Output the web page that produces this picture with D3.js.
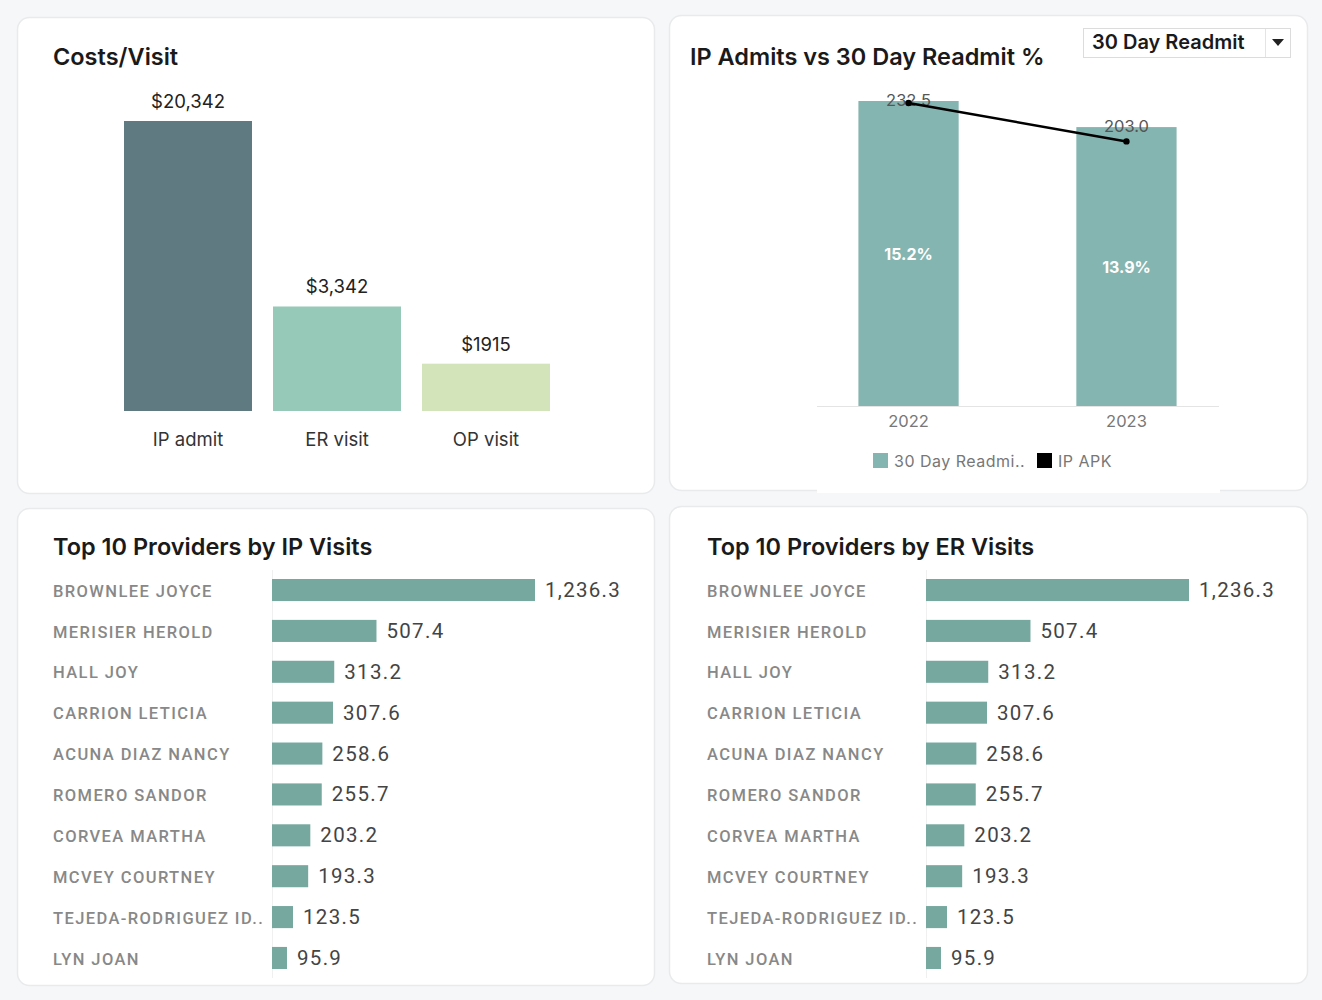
<!DOCTYPE html>
<html>
<head>
<meta charset="utf-8">
<script src="https://cdn.jsdelivr.net/npm/d3@7"></script>
<style>
  body { margin: 0; background: #f6f7f9; }
  svg { display: block; font-family: Inter, "Noto Sans", sans-serif; }
</style>
</head>
<body>
<div id="container"></div>
<script>
// Data
var costCategories = ["IP admit", "ER visit", "OP visit"];
var costValues = [20342, 3342, 1915];
var costLabels = ["$20,342", "$3,342", "$1915"];

var years = ["2022", "2023"];
var readmitPct = [15.2, 13.9];        // 30 Day Readmit %
var ipApk = [232.5, 203.0];           // IP APK

var providers = ["BROWNLEE JOYCE", "MERISIER HEROLD", "HALL JOY", "CARRION LETICIA",
  "ACUNA DIAZ NANCY", "ROMERO SANDOR", "CORVEA MARTHA", "MCVEY COURTNEY",
  "TEJEDA-RODRIGUEZ ID..", "LYN JOAN"];
var ipVisits = [1236.3, 507.4, 313.2, 307.6, 258.6, 255.7, 203.2, 193.3, 123.5, 95.9];
var erVisits = [1236.3, 507.4, 313.2, 307.6, 258.6, 255.7, 203.2, 193.3, 123.5, 95.9];

// Styles
var costColors = ["#5f7a80", "#97c9b8", "#d3e4bb"];
var readmitColor = "#85b5b0";
var provColor = "#76a8a0";
var w = 1322, h = 1000;

var svg = d3.select("#container").append("svg")
  .attr("width", w)
  .attr("height", h);

svg.append("rect").attr("width", w).attr("height", h).attr("fill", "#f6f7f9");

// Cards
var cards = [
  {x: 17, y: 17, w: 637, h: 476},
  {x: 669, y: 15, w: 638, h: 475},
  {x: 17, y: 508, w: 637, h: 477},
  {x: 669, y: 506, w: 638, h: 477}
];
svg.selectAll("rect.card")
  .data(cards)
  .enter()
  .append("rect")
  .attr("class", "card")
  .attr("x", function(d) { return d.x + 0.5; })
  .attr("y", function(d) { return d.y + 0.5; })
  .attr("width", function(d) { return d.w; })
  .attr("height", function(d) { return d.h; })
  .attr("rx", 12)
  .attr("fill", "#ffffff")
  .attr("stroke", "#e9eaec")
  .attr("stroke-width", 1.5);

// the chart area hides part of the card border on the top right card
svg.append("rect")
  .attr("x", 817).attr("y", 486)
  .attr("width", 403).attr("height", 7)
  .attr("fill", "#ffffff");

function title(x, y, txt) {
  svg.append("text")
    .attr("x", x).attr("y", y)
    .attr("font-size", 23.5)
    .attr("font-weight", 600)
    .attr("fill", "#1a1a1a")
    .text(txt);
}

// ---------- Costs/Visit ----------
title(53, 65, "Costs/Visit");

var xCost = d3.scaleBand()
  .domain(costCategories)
  .range([124, 550])
  .paddingInner(0.141)
  .paddingOuter(0);

var yCost = d3.scaleLog()
  .domain([1208, 20342])
  .range([411, 121]);

svg.selectAll("rect.cost")
  .data(costValues)
  .enter()
  .append("rect")
  .attr("x", function(d, i) { return xCost(costCategories[i]); })
  .attr("y", function(d) { return yCost(d); })
  .attr("width", xCost.bandwidth())
  .attr("height", function(d) { return 411 - yCost(d); })
  .attr("fill", function(d, i) { return costColors[i]; });

svg.selectAll("text.costlbl")
  .data(costValues)
  .enter()
  .append("text")
  .attr("x", function(d, i) { return xCost(costCategories[i]) + xCost.bandwidth() / 2; })
  .attr("y", function(d) { return yCost(d) - 13; })
  .attr("text-anchor", "middle")
  .attr("font-size", 18.5)
  .attr("fill", "#222")
  .text(function(d, i) { return costLabels[i]; });

var costAxis = svg.append("g")
  .attr("transform", "translate(0,411)")
  .call(d3.axisBottom(xCost).tickSize(0).tickPadding(22));
costAxis.select(".domain").remove();
costAxis.selectAll("text")
  .attr("font-family", "Inter, sans-serif")
  .attr("font-size", 18.5)
  .attr("fill", "#333")
  .attr("dx", 0);

// ---------- IP Admits vs 30 Day Readmit % ----------
title(690, 65, "IP Admits vs 30 Day Readmit %");

// dropdown
svg.append("rect")
  .attr("x", 1083.5).attr("y", 28.5)
  .attr("width", 207).attr("height", 29)
  .attr("fill", "#fff")
  .attr("stroke", "#dcdcdc");
svg.append("line")
  .attr("x1", 1265.5).attr("x2", 1265.5)
  .attr("y1", 29).attr("y2", 57)
  .attr("stroke", "#e4e4e4");
svg.append("text")
  .attr("x", 1092).attr("y", 49)
  .attr("font-size", 20)
  .attr("font-weight", 600)
  .attr("fill", "#1a1a1a")
  .text("30 Day Readmit");
svg.append("path")
  .attr("d", "M1272,39 L1284,39 L1278,46 Z")
  .attr("fill", "#222");

var xYear = d3.scaleBand()
  .domain(years)
  .range([817, 1218])
  .paddingInner(0.54)
  .paddingOuter(0.19);

var yPct = d3.scaleLinear()
  .domain([0, 15.2])
  .range([406, 101]);

var yApk = d3.scaleLinear()
  .domain([0, 234])
  .range([406, 101]);

svg.selectAll("rect.readmit")
  .data(readmitPct)
  .enter()
  .append("rect")
  .attr("x", function(d, i) { return xYear(years[i]); })
  .attr("y", function(d) { return yPct(d); })
  .attr("width", xYear.bandwidth())
  .attr("height", function(d) { return 406 - yPct(d); })
  .attr("fill", readmitColor);

svg.selectAll("text.pct")
  .data(readmitPct)
  .enter()
  .append("text")
  .attr("x", function(d, i) { return xYear(years[i]) + xYear.bandwidth() / 2; })
  .attr("y", function(d) { return (yPct(d) + 406) / 2 + 6; })
  .attr("text-anchor", "middle")
  .attr("font-size", 16)
  .attr("font-weight", 700)
  .attr("fill", "#ffffff")
  .text(function(d) { return d.toFixed(1) + "%"; });

var yearAxis = svg.append("g")
  .attr("transform", "translate(0,406)")
  .call(d3.axisBottom(xYear).tickSize(0).tickPadding(9));
yearAxis.select(".domain")
  .attr("stroke", "#c8c8c8")
  .attr("stroke-dasharray", "1,1");
yearAxis.selectAll("text")
  .attr("font-family", "Inter, sans-serif")
  .attr("font-size", 16.5)
  .attr("fill", "#777");

// value labels at the top of each bar
svg.selectAll("text.apk")
  .data(ipApk)
  .enter()
  .append("text")
  .attr("x", function(d, i) { return xYear(years[i]) + xYear.bandwidth() / 2; })
  .attr("y", function(d, i) { return yPct(readmitPct[i]) + 5; })
  .attr("text-anchor", "middle")
  .attr("font-size", 16.5)
  .attr("fill", "#555")
  .text(function(d) { return d.toFixed(1); });

var apkLine = d3.line()
  .x(function(d, i) { return xYear(years[i]) + xYear.bandwidth() / 2; })
  .y(function(d) { return yApk(d); });

svg.append("path")
  .datum(ipApk)
  .attr("d", apkLine)
  .attr("fill", "none")
  .attr("stroke", "#000")
  .attr("stroke-width", 2.5);

svg.selectAll("circle.apk")
  .data(ipApk)
  .enter()
  .append("circle")
  .attr("cx", function(d, i) { return xYear(years[i]) + xYear.bandwidth() / 2; })
  .attr("cy", function(d) { return yApk(d); })
  .attr("r", 3.2)
  .attr("fill", "#000");

// legend
var legend = [
  {label: "30 Day Readmi..", color: readmitColor, x: 873},
  {label: "IP APK", color: "#000", x: 1037}
];
var lg = svg.selectAll("g.legend")
  .data(legend)
  .enter()
  .append("g")
  .attr("transform", function(d) { return "translate(" + d.x + ",453)"; });
lg.append("rect")
  .attr("width", 15).attr("height", 15)
  .attr("fill", function(d) { return d.color; });
lg.append("text")
  .attr("x", 21).attr("y", 14)
  .attr("font-size", 16)
  .attr("letter-spacing", 0.5)
  .attr("fill", "#777")
  .text(function(d) { return d.label; });

// ---------- Top 10 providers ----------
function providerChart(x0, labelX, titleTxt, values) {
  title(labelX, 555, titleTxt);

  var yProv = d3.scaleBand()
    .domain(providers)
    .range([579, 969])
    .paddingInner(0.46)
    .paddingOuter(0);

  var xProv = d3.scaleLinear()
    .domain([27, 1236.3])
    .range([x0, x0 + 263]);

  var ax = svg.append("g")
    .attr("transform", "translate(" + x0 + ",0)")
    .call(d3.axisLeft(yProv).tickSize(0));
  ax.select(".domain")
    .attr("d", "M0.5,570V978")
    .attr("stroke", "#f0f0f0");
  ax.selectAll("text")
    .attr("x", labelX - x0)
    .attr("dy", "0.4em")
    .attr("text-anchor", "start")
    .attr("font-family", "Roboto, sans-serif")
    .attr("font-size", 16.5)
    .attr("font-weight", 500)
    .attr("letter-spacing", 1.4)
    .attr("fill", "#888");

  svg.selectAll(null)
    .data(values)
    .enter()
    .append("rect")
    .attr("x", x0)
    .attr("y", function(d, i) { return yProv(providers[i]); })
    .attr("width", function(d) { return xProv(d) - x0; })
    .attr("height", yProv.bandwidth())
    .attr("fill", provColor);

  svg.selectAll(null)
    .data(values)
    .enter()
    .append("text")
    .attr("x", function(d) { return xProv(d) + 10; })
    .attr("y", function(d, i) { return yProv(providers[i]) + yProv.bandwidth() / 2 + 7; })
    .attr("font-family", "Roboto, sans-serif")
    .attr("font-size", 20.5)
    .attr("letter-spacing", 1.3)
    .attr("fill", "#444")
    .text(function(d) { return d3.format(",.1f")(d); });
}

providerChart(272, 53, "Top 10 Providers by IP Visits", ipVisits);
providerChart(926, 707, "Top 10 Providers by ER Visits", erVisits);
</script>
</body>
</html>
